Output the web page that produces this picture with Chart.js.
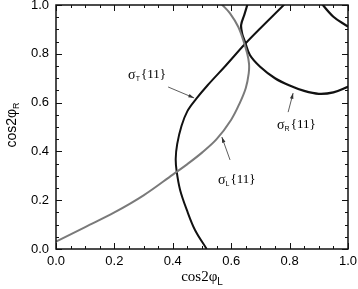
<!DOCTYPE html>
<html>
<head>
<meta charset="utf-8">
<script src="https://cdn.jsdelivr.net/npm/chart.js@4"></script>
<style>
  html, body { margin: 0; padding: 0; background: #fff; }
  #wrap { width: 358px; height: 289px; }
</style>
</head>
<body>
<div id="wrap"><canvas id="c" width="358" height="289"></canvas></div>
<script>
// tick labels
const xTicks = [0.0, 0.2, 0.4, 0.6, 0.8, 1.0];
const yTicks = [0.0, 0.2, 0.4, 0.6, 0.8, 1.0];

// sigma_L{11} (gray)
const sigLx = [0.00, 0.10, 0.20, 0.30, 0.40, 0.45, 0.50, 0.55, 0.60, 0.63, 0.65, 0.66, 0.661, 0.655, 0.641, 0.624, 0.596, 0.57, 0.555];
const sigLy = [0.03, 0.09, 0.15, 0.22, 0.305, 0.348, 0.395, 0.45, 0.53, 0.60, 0.66, 0.72, 0.76, 0.80, 0.857, 0.911, 0.966, 1.0, 1.02];

// sigma_T{11} (black)
const sigTx = [0.516, 0.476, 0.448, 0.425, 0.413, 0.410, 0.415, 0.43, 0.45, 0.48, 0.52, 0.58, 0.647, 0.70, 0.78, 0.80];
const sigTy = [0.0, 0.078, 0.16, 0.242, 0.32, 0.37, 0.43, 0.505, 0.565, 0.615, 0.672, 0.75, 0.84, 0.905, 1.0, 1.025];

// sigma_R{11} (black), lower branch and upper right branch
const sigRx = [0.66, 0.645, 0.634, 0.638, 0.647, 0.664, 0.699, 0.75, 0.80, 0.85, 0.90, 0.95, 1.0, 1.02];
const sigRy = [1.02, 0.96, 0.918, 0.88, 0.85, 0.795, 0.747, 0.70, 0.67, 0.648, 0.636, 0.642, 0.665, 0.675];
const sigR2x = [0.90, 0.95, 1.0, 1.02];
const sigR2y = [1.02, 0.952, 0.911, 0.89];

// curve labels: text, subscript, label anchor, arrow start, arrow tip
const noteText = ['σ', 'σ', 'σ'];
const noteSub = ['T', 'L', 'R'];
const noteAt = [[0.247, 0.713], [0.555, 0.283], [0.757, 0.508]];
const arrowFrom = [[0.384, 0.664], [0.596, 0.365], [0.795, 0.561]];
const arrowTo = [[0.473, 0.619], [0.568, 0.459], [0.812, 0.639]];

const pts = (xs, ys) => xs.map((x, i) => ({ x: x, y: ys[i] }));

function line(data, color, w) {
  return {
    data: data, showLine: true, borderColor: color, borderWidth: w,
    pointRadius: 0, tension: 0.35, fill: false
  };
}

const frame = {
  id: 'frame',
  afterDraw(chart) {
    const ctx = chart.ctx, a = chart.chartArea;
    const xs = chart.scales.x, ys = chart.scales.y;
    ctx.save();
    ctx.strokeStyle = '#111';
    ctx.lineWidth = 1.5;
    ctx.strokeRect(a.left, a.top, a.right - a.left, a.bottom - a.top);
    ctx.lineWidth = 1;
    for (let k = 0; k <= 20; k++) {
      const v = k * 0.05;
      const len = (k % 4 === 0) ? 6 : 3;
      const px = Math.round(xs.getPixelForValue(v)) + 0.5;
      const py = Math.round(ys.getPixelForValue(v)) + 0.5;
      ctx.beginPath();
      ctx.moveTo(px, a.bottom); ctx.lineTo(px, a.bottom - len);
      ctx.moveTo(px, a.top); ctx.lineTo(px, a.top + len);
      ctx.moveTo(a.left, py); ctx.lineTo(a.left + len, py);
      ctx.moveTo(a.right, py); ctx.lineTo(a.right - len, py);
      ctx.stroke();
    }

    // tick labels
    ctx.fillStyle = '#000';
    ctx.font = '13px "Liberation Sans"';
    ctx.textBaseline = 'middle';
    ctx.textAlign = 'center';
    xTicks.forEach(v => ctx.fillText(v.toFixed(1), xs.getPixelForValue(v), a.bottom + 12));
    ctx.textAlign = 'right';
    yTicks.forEach(v => ctx.fillText(v.toFixed(1), a.left - 7, ys.getPixelForValue(v)));
    ctx.textAlign = 'left';

    // axis titles
    ctx.textBaseline = 'alphabetic';
    ctx.font = '15px "Liberation Serif"';
    const main = 'cos2φ';
    const mw = ctx.measureText(main).width;
    ctx.font = '10px "Liberation Sans"';
    const sw = ctx.measureText('L').width;
    let x0 = (a.left + a.right) / 2 - (mw + sw) / 2;
    ctx.font = '15px "Liberation Serif"';
    ctx.fillText(main, x0, 281);
    ctx.font = '10px "Liberation Sans"';
    ctx.fillText('L', x0 + mw, 285);

    ctx.save();
    ctx.translate(16, (a.top + a.bottom) / 2 - 2);
    ctx.rotate(-Math.PI / 2);
    ctx.font = '14px "Liberation Sans"';
    const yw = ctx.measureText(main).width;
    ctx.font = '9px "Liberation Sans"';
    const ysw = ctx.measureText('R').width;
    const y0 = -(yw + ysw) / 2;
    ctx.font = '14px "Liberation Sans"';
    ctx.fillText(main, y0, 0);
    ctx.font = '9px "Liberation Sans"';
    ctx.fillText('R', y0 + yw, 3);
    ctx.restore();

    // curve labels with arrows
    ctx.strokeStyle = '#333';
    ctx.fillStyle = '#000';
    for (let i = 0; i < noteText.length; i++) {
      const lx = xs.getPixelForValue(noteAt[i][0]);
      const ly = ys.getPixelForValue(noteAt[i][1]);
      ctx.textBaseline = 'middle';
      ctx.font = '14px "Liberation Serif"';
      ctx.fillText(noteText[i], lx, ly);
      const w1 = ctx.measureText(noteText[i]).width;
      ctx.font = '7px "Liberation Sans"';
      ctx.fillText(noteSub[i], lx + w1, ly + 4);
      const w2 = ctx.measureText(noteSub[i]).width;
      ctx.font = '13px "Liberation Serif"';
      ctx.fillText('{11}', lx + w1 + w2 + 1, ly);

      const fx = xs.getPixelForValue(arrowFrom[i][0]), fy = ys.getPixelForValue(arrowFrom[i][1]);
      const tx = xs.getPixelForValue(arrowTo[i][0]), ty = ys.getPixelForValue(arrowTo[i][1]);
      ctx.lineWidth = 0.8;
      ctx.beginPath(); ctx.moveTo(fx, fy); ctx.lineTo(tx, ty); ctx.stroke();
      const ang = Math.atan2(ty - fy, tx - fx);
      ctx.beginPath();
      ctx.moveTo(tx, ty);
      ctx.lineTo(tx - 6 * Math.cos(ang - 0.3), ty - 6 * Math.sin(ang - 0.3));
      ctx.lineTo(tx - 6 * Math.cos(ang + 0.3), ty - 6 * Math.sin(ang + 0.3));
      ctx.closePath();
      ctx.fillStyle = '#333';
      ctx.fill();
      ctx.fillStyle = '#000';
    }
    ctx.restore();
  }
};

new Chart(document.getElementById('c'), {
  type: 'scatter',
  data: {
    datasets: [
      line(pts(sigLx, sigLy), '#7a7a7a', 2),
      line(pts(sigTx, sigTy), '#111', 2),
      line(pts(sigRx, sigRy), '#111', 2.2),
      line(pts(sigR2x, sigR2y), '#111', 2.2)
    ]
  },
  options: {
    responsive: false,
    animation: false,
    layout: { padding: { top: 5, right: 10, left: 0, bottom: 0 } },
    plugins: { legend: { display: false }, tooltip: { enabled: false } },
    scales: {
      x: {
        type: 'linear', min: 0, max: 1,
        afterBuildTicks: s => { s.ticks = xTicks.map(v => ({ value: v })); },
        afterFit: s => { s.height = 40; },
        grid: { display: false }, border: { display: false },
        ticks: { display: false }
      },
      y: {
        type: 'linear', min: 0, max: 1,
        afterBuildTicks: s => { s.ticks = yTicks.map(v => ({ value: v })); },
        afterFit: s => { s.width = 56; },
        grid: { display: false }, border: { display: false },
        ticks: { display: false }
      }
    }
  },
  plugins: [frame]
});
</script>
</body>
</html>
